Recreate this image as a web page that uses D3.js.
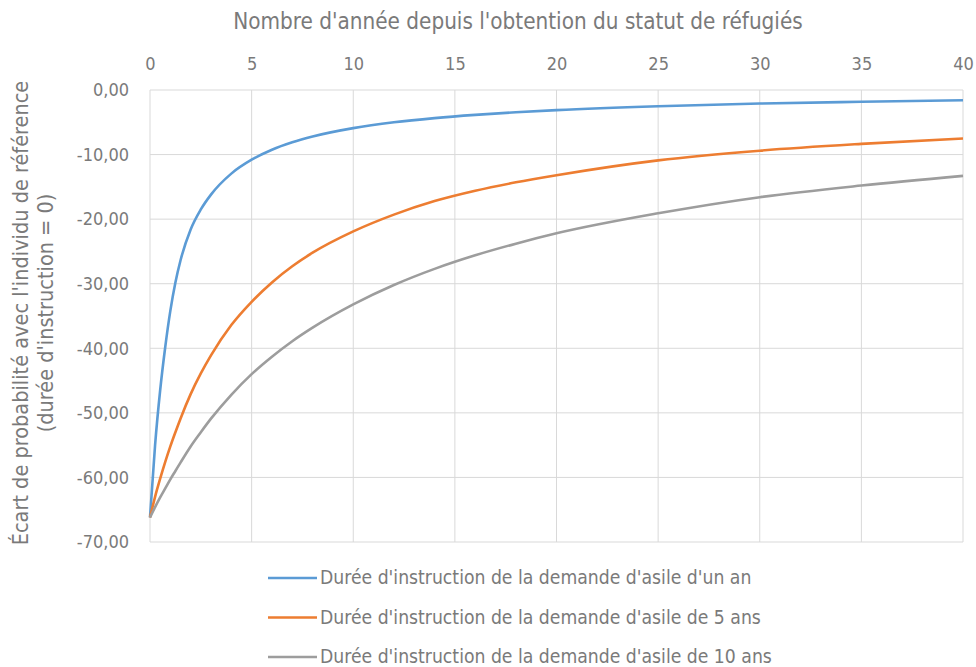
<!DOCTYPE html>
<html>
<head>
<meta charset="utf-8">
<script src="https://cdn.jsdelivr.net/npm/d3@7"></script>
<style>
  body { margin: 0; background: #fff; }
  text { font-family: "DejaVu Sans Condensed", "Liberation Sans Narrow", sans-serif; fill: #7a7a7a; }
</style>
</head>
<body>
<div id="chart"></div>
<script>
// years since obtaining refugee status
var annees = [0, 0.25, 0.5, 0.75, 1, 1.25, 1.5, 2, 2.5, 3, 4, 5, 6, 7, 8, 10, 12, 14, 16, 18, 20, 25, 30, 35, 40];

var serieUnAn = [-66.2, -55, -46.5, -39.8, -34.2, -29.8, -26.4, -21.6, -18.5, -16.2, -12.95, -10.8, -9.25, -8.1, -7.2, -5.9, -5.0, -4.35, -3.85, -3.45, -3.12, -2.52, -2.1, -1.82, -1.58];
var serieCinqAns = [-66.2, -63.0, -60.2, -57.6, -55.2, -53.0, -50.9, -47.1, -43.9, -41.1, -36.4, -32.8, -29.8, -27.3, -25.2, -21.9, -19.3, -17.2, -15.6, -14.3, -13.2, -10.9, -9.4, -8.35, -7.5];
var serieDixAns = [-66.2, -64.6, -63.1, -61.7, -60.3, -59.0, -57.7, -55.2, -53.0, -50.9, -47.2, -44.0, -41.3, -38.9, -36.8, -33.2, -30.2, -27.7, -25.6, -23.8, -22.2, -19.1, -16.6, -14.8, -13.3];

var seriesNames = [
  "Durée d'instruction de la demande d'asile d'un an",
  "Durée d'instruction de la demande d'asile de 5 ans",
  "Durée d'instruction de la demande d'asile de 10 ans"
];
var seriesColors = ["#5b9bd5", "#ed7d31", "#9d9d9d"];
var xTicks = [0, 5, 10, 15, 20, 25, 30, 35, 40];
var yTicks = [0, -10, -20, -30, -40, -50, -60, -70];

var width = 976, height = 667;
var margin = {left: 150, right: 13, top: 90, bottom: 125};

var svg = d3.select("#chart").append("svg")
  .attr("width", width)
  .attr("height", height);

var x = d3.scaleLinear().domain([0, 40]).range([margin.left, width - margin.right]);
var y = d3.scaleLinear().domain([-70, 0]).range([height - margin.bottom, margin.top]);

var fmt = function (d) { return d3.format(".2f")(d).replace(".", ",").replace("−", "-"); };

// gridlines
svg.append("g")
  .selectAll("line")
  .data(xTicks)
  .enter().append("line")
    .attr("x1", d => x(d)).attr("x2", d => x(d))
    .attr("y1", y(0)).attr("y2", y(-70))
    .style("stroke", "#d9d9d9").style("stroke-width", 1);

svg.append("g")
  .selectAll("line")
  .data(yTicks)
  .enter().append("line")
    .attr("x1", x(0)).attr("x2", x(40))
    .attr("y1", d => y(d)).attr("y2", d => y(d))
    .style("stroke", "#d9d9d9").style("stroke-width", 1);

// axes (labels only)
var xAxis = svg.append("g")
  .attr("transform", "translate(0," + (margin.top - 20) + ")")
  .call(d3.axisTop(x).tickValues(xTicks).tickSize(0).tickPadding(0));
xAxis.select(".domain").remove();
xAxis.selectAll("text").style("font-size", "18px").style("fill", "#7a7a7a");

var yAxis = svg.append("g")
  .attr("transform", "translate(" + (margin.left - 21) + ",0)")
  .call(d3.axisLeft(y).tickValues(yTicks).tickFormat(fmt).tickSize(0).tickPadding(0));
yAxis.select(".domain").remove();
yAxis.selectAll("text").style("font-size", "18px").style("fill", "#7a7a7a");

// titles
svg.append("text")
  .attr("x", 518).attr("y", 29)
  .attr("text-anchor", "middle")
  .style("font-size", "22.3px")
  .text("Nombre d'année depuis l'obtention du statut de réfugiés");

var yTitle = svg.append("text")
  .attr("transform", "translate(28,313) rotate(-90)")
  .attr("text-anchor", "middle")
  .style("font-size", "21.5px");
yTitle.append("tspan").attr("x", 0).attr("dy", 0).text("Écart de probabilité avec l'individu de référence");
yTitle.append("tspan").attr("x", 0).attr("dy", 25).text("(durée d'instruction = 0)");

// lines
var allSeries = [serieUnAn, serieCinqAns, serieDixAns];
var line = d3.line()
  .x((d, i) => x(annees[i]))
  .y(d => y(d))
  .curve(d3.curveMonotoneX);

svg.append("g")
  .selectAll("path")
  .data(allSeries)
  .enter().append("path")
    .attr("d", line)
    .style("fill", "none")
    .style("stroke", (d, i) => seriesColors[i])
    .style("stroke-width", 2.6);

// legend
var legend = svg.append("g")
  .selectAll("g")
  .data(seriesNames)
  .enter().append("g")
    .attr("transform", (d, i) => "translate(268," + (578 + i * 39.5) + ")");

legend.append("line")
  .attr("x1", 0).attr("x2", 49)
  .style("stroke", (d, i) => seriesColors[i])
  .style("stroke-width", 2.6);

legend.append("text")
  .attr("x", 52).attr("y", 6)
  .style("font-size", "19.2px")
  .text(d => d);
</script>
</body>
</html>
